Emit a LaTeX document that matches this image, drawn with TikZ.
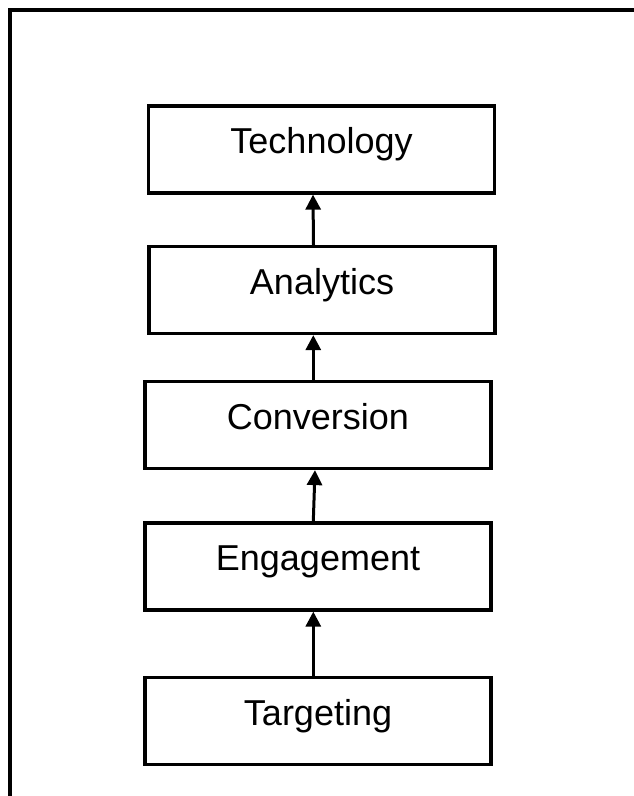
\documentclass[tikz,border=0pt]{standalone}
\usepackage{fontspec}
\setmainfont{Liberation Sans}
\usetikzlibrary{arrows.meta}
\begin{document}
\begin{tikzpicture}[x=1pt,y=-1pt,
  stage/.style={draw=black, line width=3.2pt, rectangle, inner xsep=0pt, inner ysep=0pt,
    minimum width=346pt, text height=47.5pt, text depth=39.5pt,
    font=\fontsize{36pt}{40pt}\selectfont},
  flow/.style={line width=3pt, -{Triangle[width=15pt,length=15pt]}},
  frame/.style={line width=4pt}]
  \useasboundingbox (0,0) rectangle (634,796);
  \draw[frame] (10,796) -- (10,10) -- (634,10);
  \node[stage, anchor=base] (tech) at (321.5,153.5) {Technology};
  \node[stage, anchor=base] (ana)  at (322,294)   {Analytics};
  \node[stage, anchor=base] (conv) at (318,429) {Conversion};
  \node[stage, anchor=base] (eng)  at (318,570.5) {Engagement};
  \node[stage, anchor=base] (targ) at (318,725)   {Targeting};
  \draw[flow] ([xshift=-8.5pt]ana.north) -- ([xshift=-8.5pt]tech.south);
  \draw[flow] ([xshift=-4.7pt]conv.north) -- ([xshift=-8.7pt]ana.south);
  \draw[flow] ([xshift=-4.7pt]eng.north) -- ([xshift=-3pt]conv.south);
  \draw[flow] ([xshift=-4.7pt]targ.north) -- ([xshift=-4.7pt]eng.south);
\end{tikzpicture}
\end{document}
